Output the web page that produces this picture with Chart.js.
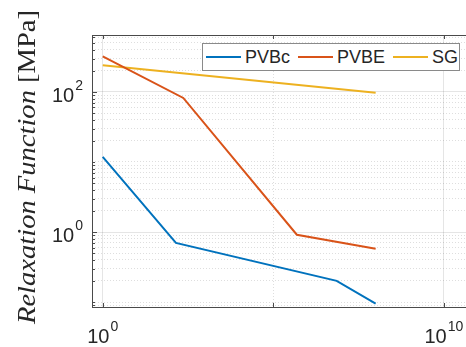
<!DOCTYPE html>
<html>
<head>
<meta charset="utf-8">
<script src="https://cdn.jsdelivr.net/npm/chart.js@4.4.1/dist/chart.umd.min.js"></script>
<style>
  html, body { margin: 0; padding: 0; background: #fff; overflow: hidden; }
  #wrap { position: relative; width: 500px; height: 347px; }
  #legend {
    position: absolute; left: 202px; top: 43px; width: 258px; height: 28px;
    box-sizing: border-box; border: 1px solid #8a8a8a; background: #fff;
    display: flex; align-items: center; padding-left: 3px;
    font: 18px "Liberation Sans", Arial, sans-serif; color: #262626;
  }
  #legend .item { display: flex; align-items: center; margin-right: 8px; }
  #legend .swatch { width: 35px; height: 2px; margin-right: 4px; }
</style>
</head>
<body>
<div id="wrap">
  <canvas id="chart" width="500" height="347"></canvas>
  <div id="legend"></div>
</div>
<script>
// values (time vs relaxation modulus, log-log)
const seriesNames = ['PVBc', 'PVBE', 'SG'];
const seriesColors = ['#0072BD', '#D95319', '#EDB120'];
const pvbcTime = [1, 140, 7.2e6, 1e8];
const pvbcModulus = [11.8, 0.70, 0.201, 0.095];
const pvbeTime = [1, 230, 4.9e5, 1e8];
const pvbeModulus = [323, 82, 0.915, 0.577];
const sgTime = [1, 1e8];
const sgModulus = [240, 97];
// labelled ticks: value -> [base, exponent]
const xTickValues = [1, 1e5, 1e10];
const xTickLabels = [['10', '0'], null, ['10', '10']];
const yMajorValues = [1, 100];
const yMajorLabels = [['10', '0'], ['10', '2']];

const toPoints = (xs, ys) => xs.map((x, i) => ({ x: x, y: ys[i] }));
const allTimes = [pvbcTime, pvbeTime, sgTime];
const allValues = [pvbcModulus, pvbeModulus, sgModulus];

// 1..9 x 10^e ticks for the y grid
function yTickList(min, max) {
  const out = [];
  for (let e = -2; e <= 3; e++) {
    for (let m = 1; m <= 9; m++) {
      const v = m * Math.pow(10, e);
      if (v >= min && v <= max) out.push(v);
    }
  }
  return out;
}
const majorIndexY = v => yMajorValues.findIndex(m => Math.abs(m - v) / m < 1e-9);
const isMajorY = v => majorIndexY(v) >= 0;

const BASE_FONT = '20px "Liberation Sans", Arial, sans-serif';
const EXP_FONT = '14px "Liberation Sans", Arial, sans-serif';

// draws base with raised exponent; align 'right' or 'center'
function drawPow(ctx, lbl, x, baseline, align) {
  ctx.font = BASE_FONT; const wb = ctx.measureText(lbl[0]).width;
  ctx.font = EXP_FONT; const we = ctx.measureText(lbl[1]).width;
  const total = wb + we + 1;
  const left = align === 'right' ? x - total : x - total / 2;
  ctx.textAlign = 'left';
  ctx.textBaseline = 'alphabetic';
  ctx.font = BASE_FONT; ctx.fillText(lbl[0], left, baseline);
  ctx.font = EXP_FONT; ctx.fillText(lbl[1], left + wb + 1, baseline - 12);
}

const frame = {
  id: 'frame',
  afterDraw(chart) {
    const { ctx, chartArea: a, scales } = chart;
    ctx.save();
    ctx.strokeStyle = '#4a4a4a';
    ctx.lineWidth = 1;
    ctx.strokeRect(a.left + 0.5, a.top + 0.5, a.right - a.left, a.bottom - a.top);
    // inner tick marks
    ctx.beginPath();
    scales.y.ticks.forEach(t => {
      const y = Math.round(scales.y.getPixelForValue(t.value)) + 0.5;
      const len = isMajorY(t.value) ? 5 : 3;
      ctx.moveTo(a.left, y); ctx.lineTo(a.left + len, y);
    });
    scales.x.ticks.forEach(t => {
      const x = Math.round(scales.x.getPixelForValue(t.value)) + 0.5;
      ctx.moveTo(x, a.bottom); ctx.lineTo(x, a.bottom - 4);
      ctx.moveTo(x, a.top); ctx.lineTo(x, a.top + 4);
    });
    ctx.stroke();

    // tick labels with superscripts
    ctx.fillStyle = '#262626';
    scales.y.ticks.forEach(t => {
      const k = majorIndexY(t.value);
      if (k < 0) return;
      drawPow(ctx, yMajorLabels[k], a.left - 9, scales.y.getPixelForValue(t.value) + 10, 'right');
    });
    scales.x.ticks.forEach(t => {
      const lbl = xTickLabels[xTickValues.indexOf(t.value)];
      if (!lbl) return;
      drawPow(ctx, lbl, scales.x.getPixelForValue(t.value), a.bottom + 36, 'center');
    });

    // y axis title: italic math part + upright unit
    const part1 = 'Relaxation Function';
    const part2 = ' [MPa]';
    const f1 = 'italic 26px "Liberation Serif", serif';
    const f2 = '26px "Liberation Serif", serif';
    ctx.font = f1; const w1 = ctx.measureText(part1).width;
    ctx.font = f2; const w2 = ctx.measureText(part2).width;
    ctx.translate(35, 167);
    ctx.rotate(-Math.PI / 2);
    ctx.scale(314 / (w1 + w2), 1);
    ctx.textBaseline = 'alphabetic';
    ctx.textAlign = 'left';
    ctx.font = f1; ctx.fillText(part1, -(w1 + w2) / 2, 0);
    ctx.font = f2; ctx.fillText(part2, -(w1 + w2) / 2 + w1, 0);
    ctx.restore();
  }
};

const chart = new Chart(document.getElementById('chart').getContext('2d'), {
  type: 'scatter',
  data: {
    datasets: seriesNames.map((name, i) => ({
      label: name,
      data: toPoints(allTimes[i], allValues[i]),
      showLine: true,
      borderColor: seriesColors[i],
      backgroundColor: seriesColors[i],
      borderWidth: 2,
      pointRadius: 0,
      tension: 0
    }))
  },
  options: {
    responsive: false,
    animation: false,
    layout: { padding: { top: 35, right: 22, left: 0, bottom: 0 } },
    plugins: { legend: { display: false }, tooltip: { enabled: false } },
    scales: {
      x: {
        type: 'logarithmic',
        min: 0.485,
        max: 1e11,
        afterBuildTicks: s => { s.ticks = xTickValues.map(v => ({ value: v })); },
        afterFit: s => { s.height = 40; },
        ticks: { display: false, autoSkip: false },
        grid: {
          drawTicks: false,
          color: c => (c.tick && c.tick.value === 1e5) ? 'rgba(0,0,0,0.13)' : 'rgba(0,0,0,0.10)'
        },
        border: { display: false, dash: c => (c.tick && c.tick.value === 1e5) ? [1, 2] : [] }
      },
      y: {
        type: 'logarithmic',
        min: 0.085,
        max: 650,
        afterBuildTicks: s => { s.ticks = yTickList(0.085, 650).map(v => ({ value: v })); },
        afterFit: s => { s.width = 92; },
        ticks: { display: false, autoSkip: false },
        grid: {
          drawTicks: false,
          color: c => (c.tick && isMajorY(c.tick.value)) ? 'rgba(0,0,0,0.10)' : 'rgba(0,0,0,0.13)'
        },
        border: { display: false, dash: c => (c.tick && isMajorY(c.tick.value)) ? [] : [1, 2] }
      }
    }
  },
  plugins: [frame]
});

// html legend built from the datasets
const legend = document.getElementById('legend');
chart.data.datasets.forEach(ds => {
  const item = document.createElement('div');
  item.className = 'item';
  const sw = document.createElement('span');
  sw.className = 'swatch';
  sw.style.background = ds.borderColor;
  const tx = document.createElement('span');
  tx.textContent = ds.label;
  item.appendChild(sw); item.appendChild(tx);
  legend.appendChild(item);
});
</script>
</body>
</html>
